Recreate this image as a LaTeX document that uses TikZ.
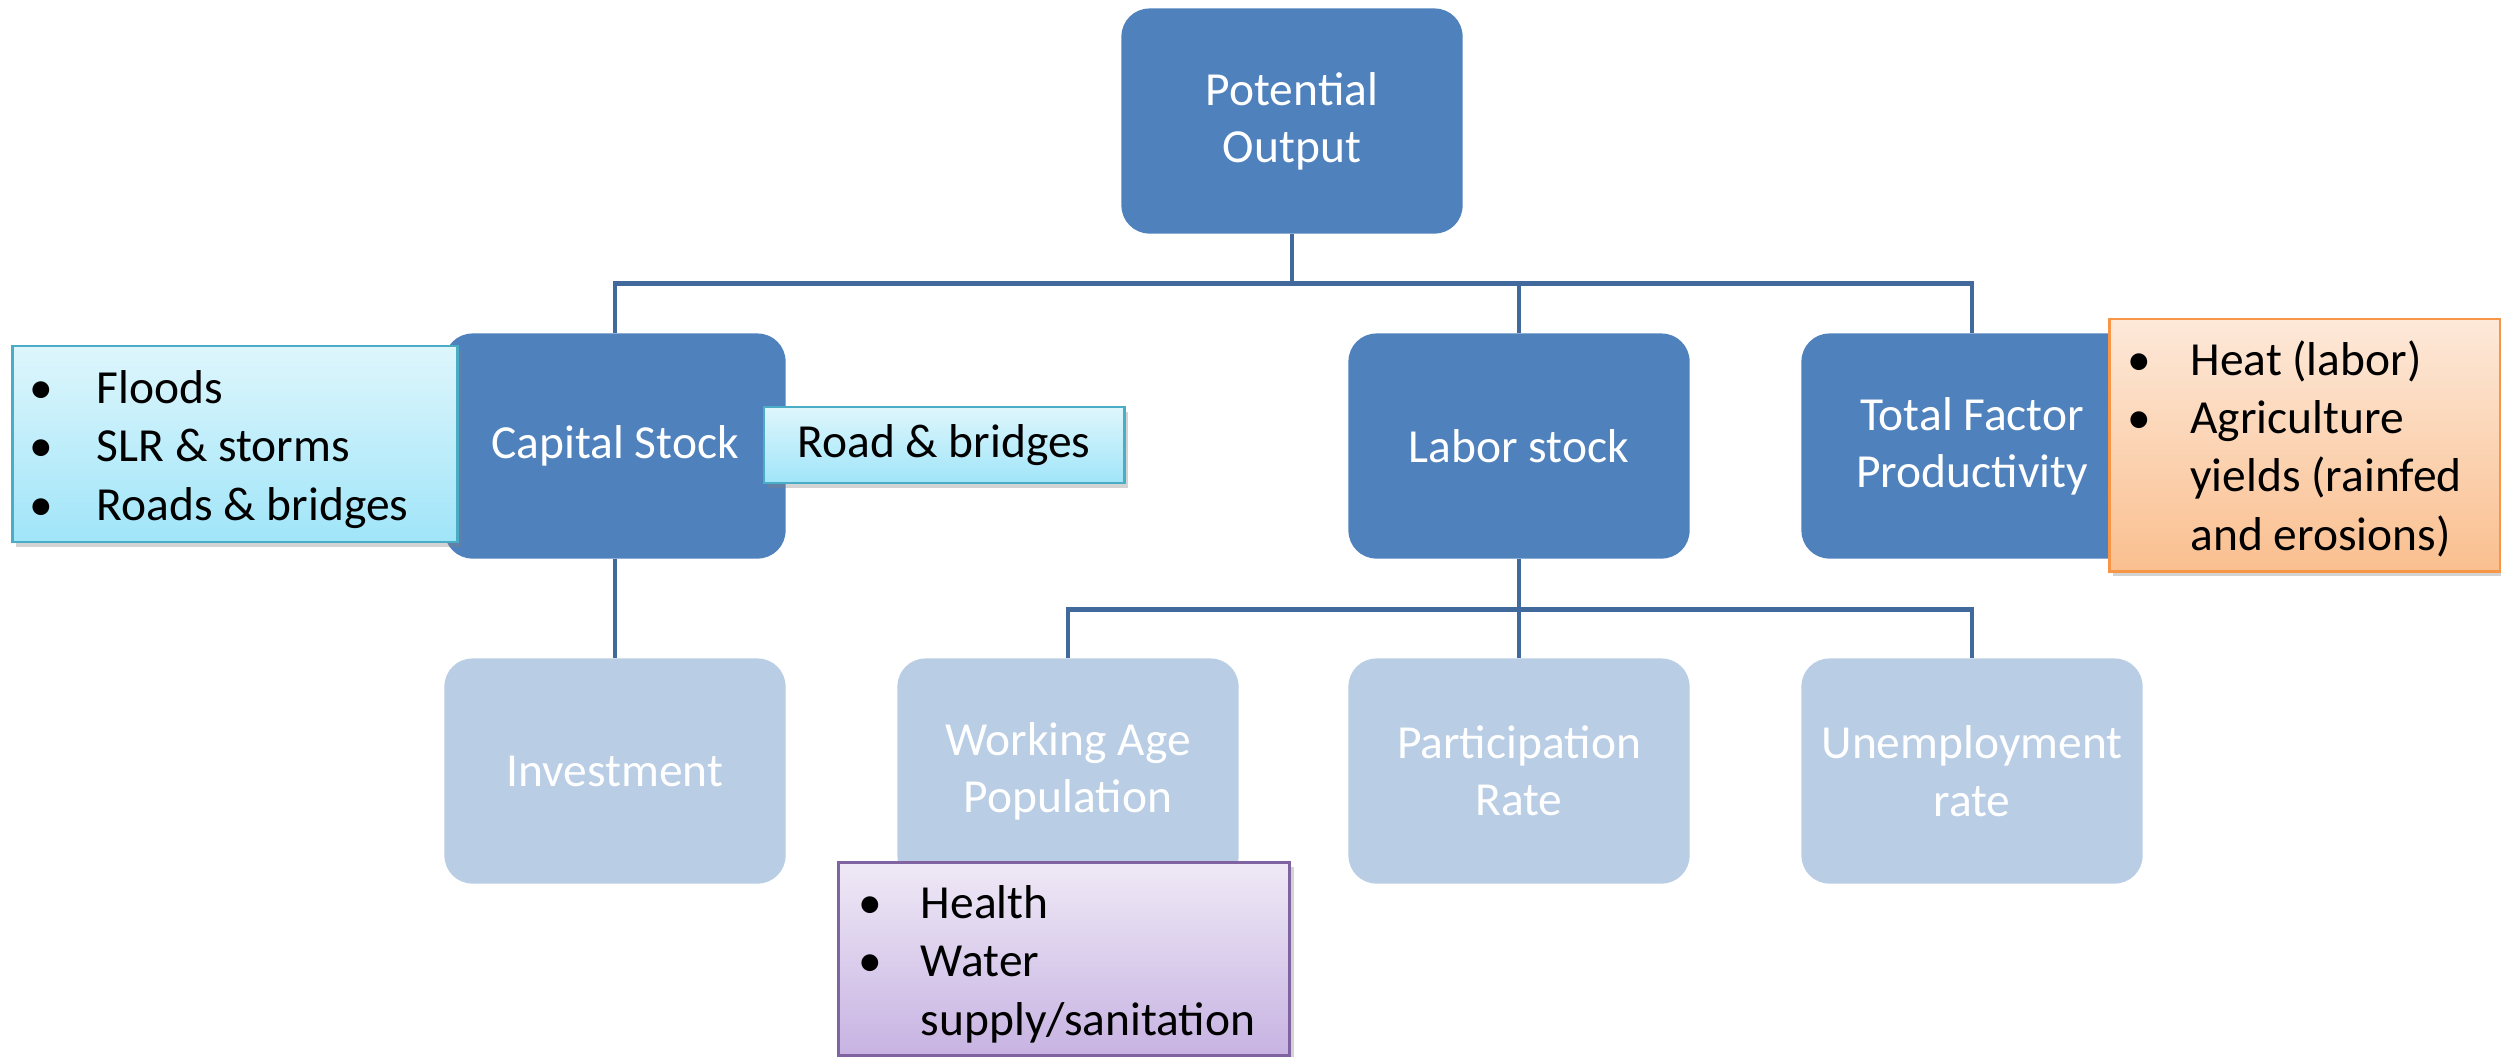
\documentclass[tikz,border=0pt]{standalone}
\usepackage{fontspec}
\setmainfont{Carlito}
\usepackage{xcolor}
\usetikzlibrary{positioning, shadows, calc}

\definecolor{boxblue}{HTML}{4F81BD}
\definecolor{boxlight}{HTML}{B9CDE5}
\definecolor{linkblue}{HTML}{41699C}
\definecolor{cyantop}{HTML}{DEF6FC}
\definecolor{cyanbot}{HTML}{A0E5F9}
\definecolor{cyanline}{HTML}{4BACC6}
\definecolor{orangetop}{HTML}{FDE9D9}
\definecolor{orangebot}{HTML}{FABF8F}
\definecolor{orangeline}{HTML}{F79646}
\definecolor{violettop}{HTML}{EFE9F6}
\definecolor{violetbot}{HTML}{C7B3E2}
\definecolor{violetline}{HTML}{8064A2}

\newcommand{\boxfont}{\fontsize{13.5}{16.3}\selectfont}
\newcommand{\notefont}{\fontsize{13.5}{16.6}\selectfont}
% bullet list set a little low, with plain word spaces
\newcommand{\notelist}[2]{\spaceskip=0pt\xspaceskip=0pt%
  \raisebox{-1.7pt}[\height][\depth]{\begin{tabular}{@{}p{#1}@{}l@{}}#2\end{tabular}}}

\tikzset{
  mainbox/.style={rounded corners=0.28cm, fill=boxblue, text=white, minimum width=3.41cm,
    minimum height=2.25cm, align=center, font=\boxfont},
  subbox/.style={mainbox, fill=boxlight},
  link/.style={draw=linkblue, line width=1.4pt},
  callout/.style={line width=0.8pt, font=\notefont, align=left, inner ysep=0pt,
    drop shadow={opacity=0.35, shadow xshift=0.04cm, shadow yshift=-0.05cm}},
  cyannote/.style={callout, draw=cyanline, top color=cyantop, bottom color=cyanbot},
  orangenote/.style={callout, draw=orangeline, top color=orangetop, bottom color=orangebot},
  violetnote/.style={callout, draw=violetline, top color=violettop, bottom color=violetbot}
}

\begin{document}
\begin{tikzpicture}[x=0.01cm, y=-0.01cm]
        \useasboundingbox (0,0) rectangle (2501,1056);

        % Tree of boxes
        \node[mainbox] (output) at (1292,121) {Potential\\Output};

        \node[mainbox] (capital) at (615,446) {Capital Stock};
        \node[mainbox] (labor) at (1519,446) {Labor stock};
        \node[mainbox] (tfp) at (1972,446) {Total Factor\\Productivity};

        \node[subbox] (invest) at (615,771) {Investment};
        \node[subbox] (workage) at (1068,771) {Working Age\\Population};
        \node[subbox] (partic) at (1519,771) {Participation\\Rate};
        \node[subbox] (unemp) at (1972,771) {Unemployment\\rate};

        % Links
        \draw[link] (output.south) -- ++(0,49) coordinate (busA);
        \draw[link] (capital.north) |- (busA) -| (tfp.north);
        \draw[link] (busA) -| (labor.north);
        \draw[link] (capital.south) -- (invest.north);
        \draw[link] (labor.south) -- ++(0,50) coordinate (busB);
        \draw[link] (workage.north) |- (busB) -| (unemp.north);
        \draw[link] (busB) -- (partic.north);

        % Notes on top
        \node[cyannote, minimum width=4.45cm, minimum height=1.96cm, text width=4.1cm,
          inner xsep=0.16cm] (floods) at (235,444)
          {\notelist{0.67cm}{\textbullet & Floods\\
            \textbullet & SLR \& storms\\
            \textbullet & Roads \& bridges}};
        \node[cyannote, minimum width=3.6cm, minimum height=0.76cm, align=center]
          (roads) at (944,445) {Road \& bridges};
        \node[orangenote, minimum width=3.91cm, minimum height=2.52cm, text width=3.55cm,
          inner xsep=0.16cm] (heat) at (2305,445)
          {\notelist{0.63cm}{\textbullet & Heat (labor)\\
            \textbullet & Agriculture\\
             & yields (rainfed\\
             & and erosions)}};
        \node[violetnote, minimum width=4.51cm, minimum height=1.93cm, text width=4.1cm,
          inner xsep=0.2cm] (health) at (1064,959)
          {\notelist{0.62cm}{\textbullet & Health\\
            \textbullet & Water\\
             & supply/sanitation}};
      \end{tikzpicture}
\end{document}
